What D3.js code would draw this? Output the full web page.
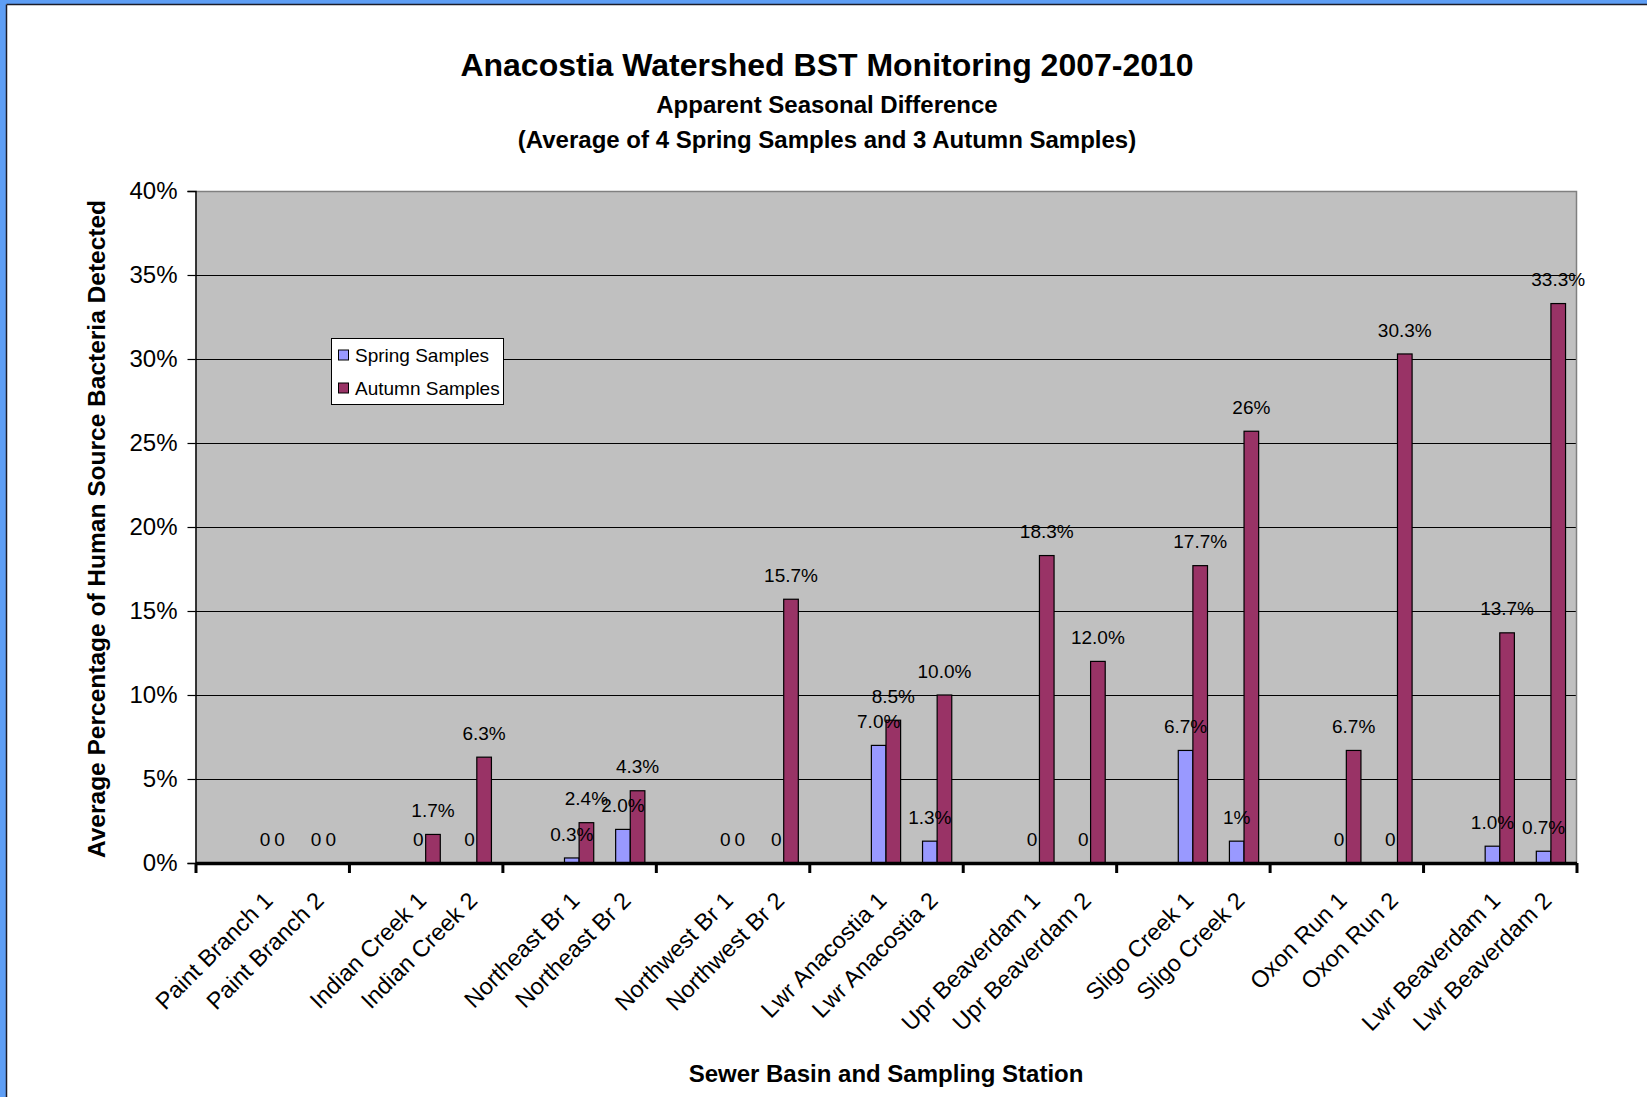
<!DOCTYPE html>
<html>
<head>
<meta charset="utf-8">
<script src="https://cdn.jsdelivr.net/npm/d3@7"></script>
<style>
  html, body { margin: 0; padding: 0; background: #fff; }
  svg { display: block; }
  text { font-family: "Liberation Sans", Arial, sans-serif; fill: #000; }
</style>
</head>
<body>
<svg id="chart" width="1647" height="1097"></svg>
<script>
// ---------- data ----------
const title = "Anacostia Watershed BST Monitoring 2007-2010";
const subtitle1 = "Apparent Seasonal Difference";
const subtitle2 = "(Average of 4 Spring Samples and 3 Autumn Samples)";
const yTitle = "Average Percentage of Human Source Bacteria Detected";
const xTitle = "Sewer Basin and Sampling Station";

const basins = ["Paint Branch", "Indian Creek", "Northeast Br", "Northwest Br", "Lwr Anacostia",
                "Upr Beaverdam", "Sligo Creek", "Oxon Run", "Lwr Beaverdam"];
const stations = ["Paint Branch 1", "Paint Branch 2", "Indian Creek 1", "Indian Creek 2",
                  "Northeast Br 1", "Northeast Br 2", "Northwest Br 1", "Northwest Br 2",
                  "Lwr Anacostia 1", "Lwr Anacostia 2", "Upr Beaverdam 1", "Upr Beaverdam 2",
                  "Sligo Creek 1", "Sligo Creek 2", "Oxon Run 1", "Oxon Run 2",
                  "Lwr Beaverdam 1", "Lwr Beaverdam 2"];
const seriesNames = ["Spring Samples", "Autumn Samples"];
const spring = [0, 0, 0, 0, 0.3, 2.0, 0, 0, 7.0, 1.3, 0, 0, 6.7, 1.3, 0, 0, 1.0, 0.7];
const autumn = [0, 0, 1.7, 6.3, 2.4, 4.3, 0, 15.7, 8.5, 10.0, 18.3, 12.0, 17.7, 25.7, 6.7, 30.3, 13.7, 33.3];
const springLabels = ["0", "0", "0", "0", "0.3%", "2.0%", "0", "0", "7.0%", "1.3%", "0", "0", "6.7%", "1%", "0", "0", "1.0%", "0.7%"];
const autumnLabels = ["0", "0", "1.7%", "6.3%", "2.4%", "4.3%", "0", "15.7%", "8.5%", "10.0%", "18.3%", "12.0%", "17.7%", "26%", "6.7%", "30.3%", "13.7%", "33.3%"];
const yTicks = [0, 5, 10, 15, 20, 25, 30, 35, 40];

// ---------- layout ----------
const W = 1647, H = 1097;
const plot = { left: 195.5, right: 1576.5, top: 191, bottom: 863 };
const colors = { spring: "#9999FF", autumn: "#993366" };

const svg = d3.select("#chart");

// frame
svg.append("rect").attr("x", 0).attr("y", 0).attr("width", W).attr("height", 4).attr("fill", "#5E9EF5");
svg.append("rect").attr("x", 0).attr("y", 0).attr("width", 6).attr("height", H).attr("fill", "#5E9EF5");
svg.append("line").attr("x1", 6.5).attr("x2", W).attr("y1", 4.5).attr("y2", 4.5).attr("stroke", "#1c1c28").attr("stroke-width", 1.5);
svg.append("line").attr("x1", 6.5).attr("x2", 6.5).attr("y1", 4.5).attr("y2", H).attr("stroke", "#1c1c28").attr("stroke-width", 1.5);

// scales
const slotsPerBasin = 3;
const nSlots = basins.length * slotsPerBasin;
const slotOf = i => Math.floor(i / 2) * slotsPerBasin + 1 + (i % 2);

const x0 = d3.scaleBand().domain(d3.range(nSlots)).range([plot.left, plot.right]).paddingInner(0).paddingOuter(0);
const x1 = d3.scaleBand().domain(["spring", "autumn"]).range([0, x0.bandwidth()]).paddingInner(0).paddingOuter(0.75);
const xg = d3.scaleLinear().domain([0, basins.length]).range([plot.left, plot.right]);
const y = d3.scaleLinear().domain([0, 40]).range([plot.bottom, plot.top]);

// plot background
svg.append("rect")
  .attr("x", plot.left).attr("y", plot.top)
  .attr("width", plot.right - plot.left).attr("height", plot.bottom - plot.top)
  .attr("fill", "#C0C0C0");

// gridlines
svg.append("g").selectAll("line")
  .data(yTicks.filter(t => t > 0 && t < 40))
  .join("line")
  .attr("x1", plot.left).attr("x2", plot.right)
  .attr("y1", d => Math.round(y(d)) + 0.5).attr("y2", d => Math.round(y(d)) + 0.5)
  .attr("stroke", "#000").attr("stroke-width", 1);

// plot border top/right
svg.append("path")
  .attr("d", `M${plot.left},${plot.top + 0.5}H${plot.right}V${plot.bottom}`)
  .attr("fill", "none").attr("stroke", "#808080").attr("stroke-width", 1.5);

// bars
const rows = stations.map((s, i) => ({ i, s, spring: spring[i], autumn: autumn[i] }));
const gBars = svg.append("g");
["spring", "autumn"].forEach(key => {
  gBars.append("g").selectAll("rect")
    .data(rows)
    .join("rect")
    .attr("x", d => x0(slotOf(d.i)) + x1(key))
    .attr("y", d => y(d[key]))
    .attr("width", x1.bandwidth())
    .attr("height", d => y(0) - y(d[key]))
    .attr("fill", colors[key])
    .attr("stroke", "#000").attr("stroke-width", 1.2);
});

// data labels
const labelSets = { spring: springLabels, autumn: autumnLabels };
["spring", "autumn"].forEach(key => {
  svg.append("g").selectAll("text")
    .data(rows)
    .join("text")
    .attr("x", d => x0(slotOf(d.i)) + x1(key) + x1.bandwidth() / 2)
    .attr("y", d => y(d[key]) - 24)
    .attr("dy", "0.35em")
    .attr("text-anchor", "middle")
    .attr("font-size", 19)
    .text(d => labelSets[key][d.i]);
});

// y axis
const yAxis = d3.axisLeft(y).tickValues(yTicks).tickFormat(d => d + "%").tickSize(8).tickPadding(10);
const gy = svg.append("g").attr("transform", `translate(${plot.left},0)`).call(yAxis);
gy.select(".domain").attr("stroke", "#000").attr("stroke-width", 1.5);
gy.selectAll(".tick line").attr("stroke", "#000").attr("stroke-width", 1.2);
gy.selectAll(".tick text").attr("font-size", 24).attr("font-family", "Liberation Sans, Arial, sans-serif").attr("fill", "#000");

// x axis: group tick marks
const xAxisTicks = d3.axisBottom(xg).tickValues(d3.range(basins.length + 1)).tickFormat("").tickSize(10).tickSizeOuter(0);
const gx = svg.append("g").attr("transform", `translate(0,${plot.bottom})`).call(xAxisTicks);
gx.select(".domain").attr("stroke", "#000").attr("stroke-width", 3.5);
gx.selectAll(".tick line").attr("stroke", "#000").attr("stroke-width", 3);

// x axis: station labels
const xAxisLabels = d3.axisBottom(x0)
  .tickValues(stations.map((s, i) => slotOf(i)))
  .tickFormat(v => stations[stations.findIndex((s, i) => slotOf(i) === v)])
  .tickSize(0).tickSizeOuter(0);
const gxl = svg.append("g").attr("transform", `translate(0,${plot.bottom})`).call(xAxisLabels);
gxl.select(".domain").remove();
gxl.selectAll(".tick text")
  .attr("font-size", 23.5)
  .attr("font-family", "Liberation Sans, Arial, sans-serif")
  .attr("fill", "#000")
  .attr("text-anchor", "end")
  .attr("dy", 0)
  .attr("y", 0)
  .attr("transform", "translate(2,39) rotate(-45)");

// titles
const cx = (7 + W) / 2;
svg.append("text").attr("x", cx).attr("y", 76).attr("text-anchor", "middle")
  .attr("font-size", 32).attr("font-weight", "bold").text(title);
svg.append("text").attr("x", cx).attr("y", 113).attr("text-anchor", "middle")
  .attr("font-size", 24).attr("font-weight", "bold").text(subtitle1);
svg.append("text").attr("x", cx).attr("y", 148).attr("text-anchor", "middle")
  .attr("font-size", 24).attr("font-weight", "bold").text(subtitle2);
svg.append("text").attr("x", (plot.left + plot.right) / 2).attr("y", 1082).attr("text-anchor", "middle")
  .attr("font-size", 24).attr("font-weight", "bold").text(xTitle);
svg.append("text")
  .attr("transform", `translate(105,${(plot.top + plot.bottom) / 2 + 2}) rotate(-90)`)
  .attr("text-anchor", "middle")
  .attr("font-size", 24.5).attr("font-weight", "bold").text(yTitle);

// legend
const lg = svg.append("g").attr("transform", "translate(331,338)");
lg.append("rect").attr("x", 0.5).attr("y", 0.5).attr("width", 172).attr("height", 66)
  .attr("fill", "#fff").attr("stroke", "#000").attr("stroke-width", 1);
seriesNames.forEach((name, k) => {
  const key = k === 0 ? "spring" : "autumn";
  const cy = 17 + k * 33;
  lg.append("rect").attr("x", 7.5).attr("y", cy - 5).attr("width", 10).attr("height", 10)
    .attr("fill", colors[key]).attr("stroke", "#000").attr("stroke-width", 1);
  lg.append("text").attr("x", 24).attr("y", cy).attr("dy", "0.35em")
    .attr("font-size", 19).text(name);
});
</script>
</body>
</html>
